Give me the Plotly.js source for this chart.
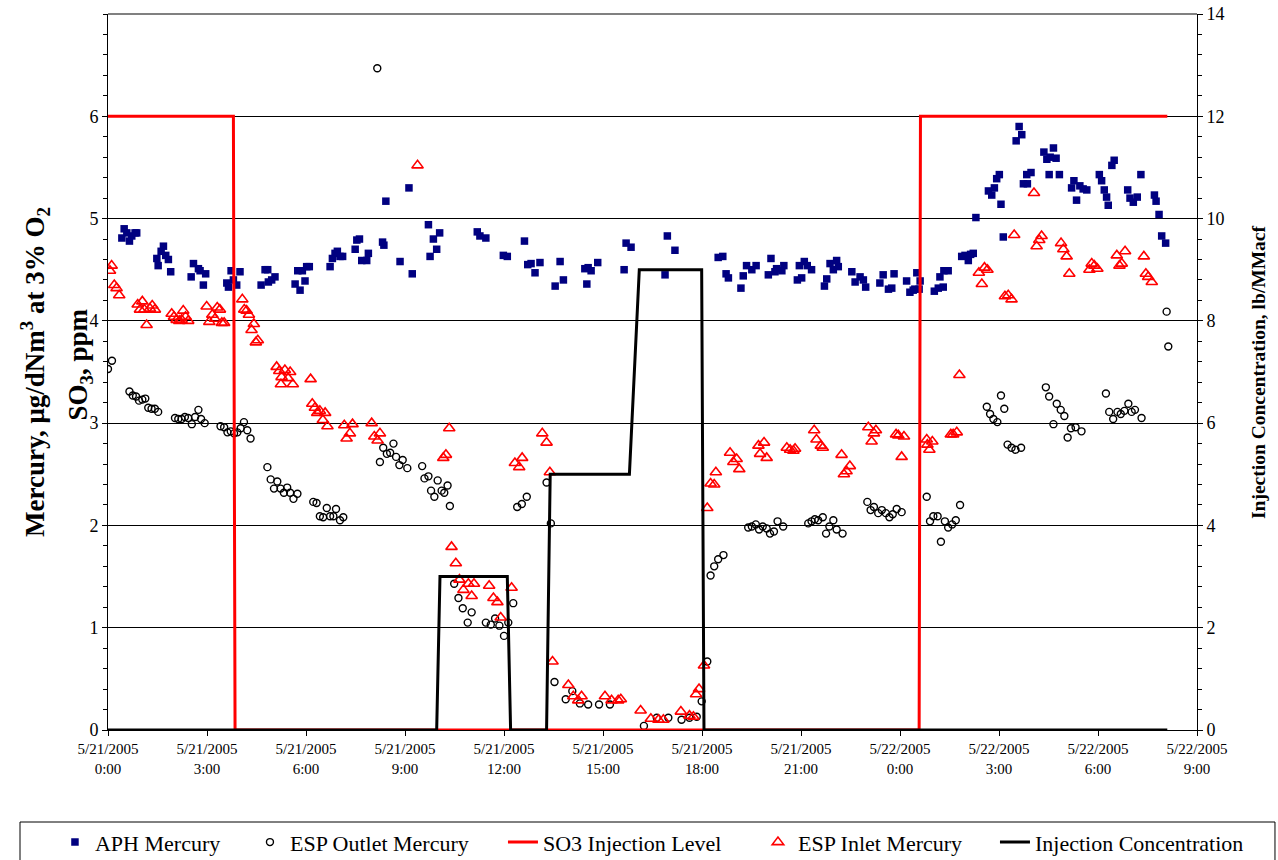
<!DOCTYPE html>
<html>
<head>
<meta charset="utf-8">
<script src="https://cdn.plot.ly/plotly-3.0.1.min.js"></script>
<style>html,body{margin:0;padding:0;background:#fff;}#chart{width:1278px;height:860px;}</style>
</head>
<body>
<div id="chart"></div>
<script>
// Hours after 5/21/2005 0:00
const xTickHours = [0,3,6,9,12,15,18,21,24,27,30,33];
const xTickLabels = ["5/21/2005<br>0:00","5/21/2005<br>3:00","5/21/2005<br>6:00","5/21/2005<br>9:00",
  "5/21/2005<br>12:00","5/21/2005<br>15:00","5/21/2005<br>18:00","5/21/2005<br>21:00",
  "5/22/2005<br>0:00","5/22/2005<br>3:00","5/22/2005<br>6:00","5/22/2005<br>9:00"];

const aphHours = [
0.42,0.49,0.57,0.65,0.72,0.82,0.87,1.48,1.52,1.61,
1.68,1.75,1.83,1.90,2.52,2.59,2.74,2.79,2.89,2.96,
3.60,3.65,3.73,3.80,3.90,4.00,4.64,4.76,4.84,4.86,
4.96,5.06,5.67,5.75,5.82,5.89,5.97,6.02,6.10,6.73,
6.80,6.88,6.95,7.03,7.11,7.49,7.54,7.62,7.69,7.84,
7.89,8.32,8.36,8.42,8.85,9.12,9.22,9.71,9.76,9.86,
9.96,10.05,11.19,11.27,11.45,11.98,12.10,12.62,12.72,12.82,
12.94,13.09,13.55,13.70,13.80,14.45,14.51,14.55,14.64,14.84,
15.64,15.70,15.85,16.88,16.95,17.18,18.49,18.63,18.73,18.80,
19.18,19.25,19.35,19.51,19.64,20.01,20.09,20.21,20.26,20.42,
20.48,20.89,20.95,21.02,21.10,21.19,21.32,21.71,21.78,21.88,
21.98,22.08,22.13,22.54,22.64,22.79,22.89,22.96,23.39,23.49,
23.65,23.75,23.82,24.20,24.30,24.40,24.45,24.51,24.58,24.61,
25.04,25.16,25.21,25.31,25.33,25.46,25.87,25.97,26.07,26.14,
26.22,26.30,26.68,26.78,26.86,26.93,27.01,27.06,27.13,27.52,
27.61,27.69,27.74,27.84,27.86,27.97,28.36,28.45,28.52,28.55,
28.65,28.73,28.83,29.20,29.27,29.35,29.45,29.55,29.66,30.04,
30.11,30.19,30.26,30.31,30.42,30.49,30.90,30.97,31.07,31.19,
31.30,31.71,31.76,31.85,31.93,32.05];
const aphMercury = [
4.81,4.90,4.86,4.78,4.83,4.86,4.86,4.61,4.54,4.68,
4.73,4.64,4.60,4.48,4.43,4.56,4.51,4.49,4.35,4.46,
4.37,4.33,4.49,4.40,4.35,4.48,4.35,4.50,4.50,4.38,
4.40,4.43,4.36,4.49,4.30,4.49,4.39,4.53,4.53,4.53,
4.61,4.66,4.68,4.63,4.63,4.70,4.79,4.80,4.59,4.59,
4.66,4.77,4.74,5.17,4.58,5.30,4.46,4.94,4.63,4.80,
4.70,4.86,4.87,4.83,4.81,4.64,4.63,4.78,4.55,4.56,
4.47,4.57,4.34,4.58,4.40,4.51,4.36,4.52,4.49,4.57,
4.50,4.76,4.72,4.45,4.83,4.69,4.62,4.63,4.46,4.42,
4.32,4.44,4.54,4.50,4.54,4.45,4.61,4.48,4.51,4.49,
4.54,4.40,4.54,4.42,4.58,4.54,4.50,4.34,4.41,4.56,
4.50,4.59,4.53,4.48,4.38,4.43,4.40,4.33,4.37,4.45,
4.31,4.32,4.46,4.39,4.28,4.30,4.31,4.47,4.31,4.39,
4.29,4.32,4.43,4.33,4.49,4.49,4.63,4.64,4.59,4.65,
4.66,5.01,5.27,5.23,5.30,5.39,5.43,5.14,4.82,5.76,
5.90,5.82,5.34,5.43,5.34,5.45,5.65,5.58,5.43,5.60,
5.69,5.59,5.43,5.30,5.37,5.18,5.32,5.29,5.28,5.43,
5.37,5.28,5.21,5.13,5.52,5.57,5.28,5.20,5.16,5.21,
5.43,5.23,5.17,5.04,4.83,4.76];

const outletHours = [
0.00,0.12,0.65,0.75,0.85,0.94,1.04,1.13,1.22,1.32,
1.42,1.52,2.03,2.13,2.23,2.33,2.43,2.54,2.64,2.74,
2.82,2.93,3.41,3.52,3.62,3.72,3.82,3.92,4.02,4.12,
4.22,4.32,4.83,4.93,5.03,5.13,5.23,5.33,5.43,5.52,
5.62,5.74,6.22,6.32,6.42,6.52,6.63,6.73,6.83,6.91,
7.03,7.13,8.16,8.24,8.34,8.45,8.55,8.65,8.73,8.83,
8.93,9.07,9.52,9.59,9.71,9.79,9.89,9.99,10.11,10.19,
10.29,10.36,10.49,10.62,10.75,10.90,11.02,11.45,11.60,11.73,
11.86,12.00,12.13,12.28,12.40,12.54,12.69,13.29,13.42,13.53,
13.87,14.07,14.30,14.55,14.88,15.21,16.24,16.63,16.98,17.38,
17.62,17.84,17.99,18.16,18.26,18.37,18.49,18.65,19.40,19.51,
19.63,19.73,19.84,19.96,20.06,20.18,20.29,20.46,21.22,21.32,
21.42,21.52,21.66,21.76,21.86,21.98,22.08,22.26,23.01,23.11,
23.21,23.34,23.45,23.57,23.68,23.78,23.90,24.05,24.81,24.91,
25.01,25.14,25.24,25.36,25.46,25.58,25.69,25.82,26.63,26.73,
26.83,26.95,27.06,27.16,27.26,27.38,27.50,27.67,28.42,28.52,
28.65,28.75,28.87,28.98,29.08,29.18,29.32,29.50,30.24,30.34,
30.46,30.59,30.69,30.80,30.92,31.02,31.12,31.32,32.08,32.13];
const outletMercury = [
3.53,3.61,3.31,3.27,3.26,3.22,3.23,3.24,3.15,3.14,
3.14,3.11,3.05,3.04,3.04,3.06,3.05,2.99,3.06,3.13,
3.04,3.00,2.97,2.96,2.91,2.92,2.90,2.91,2.95,3.01,
2.93,2.85,2.57,2.45,2.36,2.43,2.36,2.32,2.37,2.32,
2.26,2.31,2.23,2.22,2.09,2.08,2.17,2.09,2.09,2.16,
2.05,2.08,6.47,2.62,2.76,2.70,2.71,2.80,2.67,2.59,
2.64,2.56,2.58,2.46,2.48,2.34,2.28,2.44,2.34,2.32,
2.39,2.19,1.43,1.29,1.19,1.05,1.15,1.05,1.03,1.09,
1.02,0.92,1.05,1.24,2.18,2.21,2.28,2.42,2.02,0.47,
0.30,0.38,0.26,0.25,0.25,0.25,0.04,0.12,0.12,0.10,
0.12,0.13,0.28,0.67,1.51,1.60,1.67,1.71,1.98,1.99,
2.01,1.96,1.99,1.97,1.92,1.94,2.04,1.99,2.02,2.04,
2.06,2.05,2.08,1.92,1.99,2.05,1.96,1.92,2.23,2.15,
2.18,2.12,2.15,2.12,2.08,2.11,2.16,2.13,2.28,2.04,
2.09,2.09,1.84,2.04,1.98,2.01,2.05,2.20,3.16,3.09,
3.04,3.01,3.27,3.14,2.79,2.76,2.74,2.76,3.35,3.26,
2.99,3.19,3.13,3.07,2.86,2.95,2.96,2.92,3.29,3.11,
3.04,3.11,3.09,3.12,3.19,3.11,3.13,3.05,4.09,3.75];

const inletHours = [
0.06,0.11,0.19,0.26,0.34,0.90,0.97,1.04,1.10,1.17,
1.27,1.34,1.42,1.93,2.00,2.08,2.16,2.23,2.28,2.35,
2.43,2.99,3.07,3.16,3.24,3.31,3.39,3.45,3.52,4.07,
4.13,4.20,4.27,4.35,4.42,4.48,4.54,5.11,5.19,5.24,
5.26,5.36,5.46,5.52,5.60,6.14,6.19,6.27,6.34,6.42,
6.51,6.58,6.65,7.16,7.23,7.33,7.41,7.99,8.07,8.17,
8.24,9.38,10.16,10.24,10.34,10.41,10.54,10.65,10.77,10.92,
11.02,11.09,11.55,11.68,11.80,11.90,12.23,12.33,12.46,12.55,
13.16,13.29,13.39,13.47,13.95,14.10,14.25,14.35,15.06,15.26,
15.46,15.54,16.14,16.45,16.68,16.83,17.36,17.62,17.74,17.82,
17.91,18.06,18.16,18.26,18.37,18.42,18.85,18.95,19.05,19.13,
19.71,19.76,19.88,19.96,20.57,20.67,20.77,20.82,21.40,21.47,
21.60,21.66,22.23,22.30,22.38,22.48,23.04,23.14,23.21,23.27,
23.88,23.95,24.05,24.12,24.81,24.83,24.89,24.98,25.54,25.61,
25.72,25.80,26.39,26.48,26.56,26.65,27.18,27.28,27.38,27.46,
28.06,28.14,28.22,28.29,28.88,28.95,29.05,29.13,29.74,29.81,
29.89,29.98,30.57,30.65,30.72,30.82,31.39,31.45,31.52,31.63];
const inletMercury = [
4.49,4.54,4.35,4.32,4.25,4.16,4.11,4.19,4.11,3.96,
4.12,4.15,4.11,4.07,4.04,4.01,4.00,4.01,4.10,4.04,
4.00,4.14,3.99,4.06,4.02,4.13,4.11,3.98,3.98,4.21,
4.11,4.10,4.06,3.91,3.97,3.79,3.81,3.55,3.51,3.38,
3.45,3.52,3.44,3.50,3.38,3.43,3.19,3.15,3.10,3.12,
3.03,3.10,2.97,2.98,2.85,2.90,2.99,3.00,2.87,2.83,
2.90,5.52,2.66,2.69,2.95,1.79,1.63,1.47,1.37,1.43,
1.31,1.43,1.41,1.29,1.25,1.10,1.39,2.61,2.57,2.66,
2.90,2.81,2.52,0.67,0.44,0.33,0.29,0.33,0.33,0.29,
0.29,0.30,0.19,0.11,0.10,0.10,0.18,0.14,0.13,0.35,
0.40,0.63,2.17,2.41,2.40,2.52,2.71,2.62,2.65,2.55,
2.78,2.70,2.81,2.66,2.76,2.74,2.73,2.75,2.93,2.84,
2.78,2.76,2.69,2.50,2.53,2.58,2.96,2.82,2.90,2.93,
2.89,2.88,2.67,2.87,2.84,2.79,2.74,2.82,2.89,2.89,
2.91,3.47,4.47,4.36,4.52,4.50,4.24,4.25,4.21,4.84,
5.25,4.73,4.79,4.83,4.76,4.70,4.63,4.46,4.50,4.56,
4.54,4.51,4.64,4.54,4.56,4.68,4.63,4.46,4.43,4.38];

const so3Hours = [0, 3.80, 3.85, 24.58, 24.62, 32.10];
const so3Level = [6, 6, 0, 0, 6, 6];

const injHours = [0, 9.96, 10.06, 12.10, 12.20, 13.29, 13.40, 15.80, 16.10, 17.99, 18.06, 32.10];
const injConc  = [0, 0, 3, 3, 0, 0, 5, 5, 9, 9, 0, 0];

const SERIF = "Liberation Serif, Times New Roman, serif";

const traces = [
  {name: "APH Mercury", x: aphHours, y: aphMercury, type: "scatter", mode: "markers", legendwidth: 150,
   marker: {symbol: "square", size: 7.5, color: "#000080", line: {width: 0}}},
  {name: "ESP Outlet Mercury", x: outletHours, y: outletMercury, type: "scatter", mode: "markers", legendwidth: 208,
   marker: {symbol: "circle-open", size: 7, color: "#000000", line: {width: 1.4, color: "#000000"}}},
  {name: "SO3 Injection Level", x: so3Hours, y: so3Level, type: "scatter", mode: "lines", legendwidth: 210,
   line: {color: "#FF0000", width: 3}},
  {name: "ESP Inlet Mercury", x: inletHours, y: inletMercury, type: "scatter", mode: "markers", legendwidth: 192,
   marker: {symbol: "triangle-up-open", size: 10, color: "#FF0000", line: {width: 1.6, color: "#FF0000"}}},
  {name: "Injection Concentration", x: injHours, y: injConc, type: "scatter", mode: "lines", yaxis: "y2", legendwidth: 214,
   line: {color: "#000000", width: 3}}
];

const layout = {
  width: 1278, height: 860,
  margin: {l: 108, r: 81, t: 14, b: 130, autoexpand: false},
  paper_bgcolor: "#ffffff", plot_bgcolor: "#ffffff",
  font: {family: SERIF, color: "#000000"},
  showlegend: true,
  xaxis: {
    range: [0, 33], tickmode: "array", tickvals: xTickHours, ticktext: xTickLabels,
    ticks: "outside", ticklen: 5, tickcolor: "#000000", tickwidth: 1,
    showline: true, linecolor: "#000000", linewidth: 1,
    showgrid: false, zeroline: false, automargin: false,
    tickfont: {family: SERIF, size: 15, color: "#000000"}
  },
  yaxis: {
    range: [0, 7], tickmode: "array", tickvals: [0,1,2,3,4,5,6],
    ticks: "outside", ticklen: 5, tickcolor: "#000000",
    minor: {tickmode: "linear", tick0: 0, dtick: 0.2, ticks: "outside", ticklen: 4, tickcolor: "#000000", showgrid: false},
    showgrid: true, gridcolor: "#000000", gridwidth: 1,
    showline: true, linecolor: "#000000", linewidth: 1, zeroline: false, automargin: false,
    tickfont: {family: SERIF, size: 18, color: "#000000"}
  },
  yaxis2: {
    overlaying: "y", side: "right", range: [0, 14], tickmode: "linear", tick0: 0, dtick: 2,
    ticks: "outside", ticklen: 5, tickcolor: "#000000",
    minor: {tickmode: "linear", tick0: 0, dtick: 0.4, ticks: "outside", ticklen: 4, tickcolor: "#000000", showgrid: false},
    showgrid: false, showline: true, linecolor: "#000000", linewidth: 1, zeroline: false, automargin: false,
    tickfont: {family: SERIF, size: 18, color: "#000000"}
  },
  shapes: [
    {type: "line", xref: "paper", yref: "paper", x0: 0, x1: 1, y0: 1, y1: 1,
     line: {color: "#808080", width: 2}},
    {type: "rect", xref: "paper", yref: "paper", x0: -0.0808, x1: 1.0716, y0: -0.1285, y1: -0.21,
     line: {color: "#000000", width: 1}, fillcolor: "rgba(0,0,0,0)"}
  ],
  annotations: [
    {text: "<b>Mercury, μg/dNm<sup>3</sup> at 3% O<sub>2</sub></b>", xref: "paper", yref: "paper",
     x: -0.067, y: 0.50, xanchor: "center", yanchor: "middle", textangle: -90, showarrow: false,
     font: {family: SERIF, size: 27, color: "#000000"}},
    {text: "<b>SO<sub>3</sub>, ppm</b>", xref: "paper", yref: "paper",
     x: -0.026, y: 0.51, xanchor: "center", yanchor: "middle", textangle: -90, showarrow: false,
     font: {family: SERIF, size: 27, color: "#000000"}},
    {text: "<b>Injection Concentration, lb/MMacf</b>", xref: "paper", yref: "paper",
     x: 1.056, y: 0.50, xanchor: "center", yanchor: "middle", textangle: -90, showarrow: false,
     font: {family: SERIF, size: 19.5, color: "#000000"}}
  ],
  legend: {
    orientation: "h", x: -0.0487, xanchor: "left", y: -0.1275, yanchor: "top",
    borderwidth: 0, bgcolor: "rgba(0,0,0,0)",
    font: {family: SERIF, size: 22, color: "#000000"}, traceorder: "normal"
  }
};

Plotly.newPlot("chart", traces, layout, {displayModeBar: false, staticPlot: true});
</script>
</body>
</html>
